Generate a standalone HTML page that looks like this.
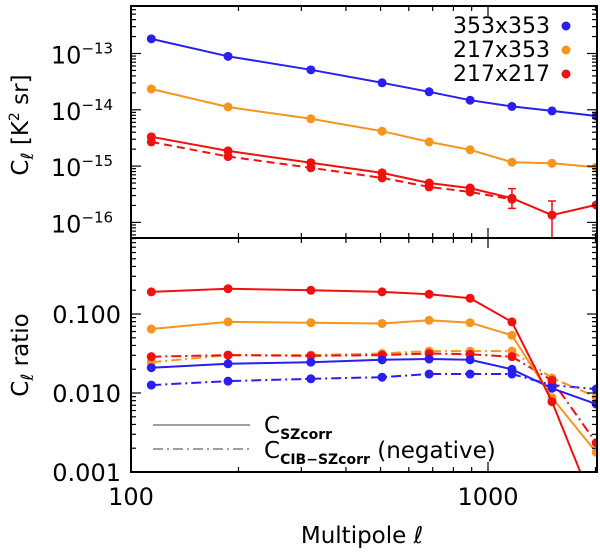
<!DOCTYPE html>
<html><head><meta charset="utf-8"><style>
body{margin:0;background:#fff}
svg{display:block;font-family:"DejaVu Sans","Liberation Sans",sans-serif}
</style></head><body>
<svg id="chart" width="600" height="553">
<rect width="600" height="553" fill="#fff"/>
<g id="marks"></g>
<g id="axes"></g>
<text x="28" y="125" transform="rotate(-90 28 125)" text-anchor="middle" font-size="23">C<tspan font-style="italic" font-size="17" dy="5">ℓ</tspan><tspan dy="-5"> [K</tspan><tspan font-size="14" dy="-9">2</tspan><tspan dy="9"> sr]</tspan></text>
<text x="28" y="355" transform="rotate(-90 28 355)" text-anchor="middle" font-size="23">C<tspan font-style="italic" font-size="17" dy="5">ℓ</tspan><tspan dy="-5"> ratio</tspan></text>
<text x="362" y="543" text-anchor="middle" font-size="23">Multipole <tspan font-style="italic">ℓ</tspan></text>
<g font-size="22">
<text x="550" y="33" text-anchor="end">353x353</text>
<circle cx="566" cy="26" r="4.5" fill="#2a1ff0"/>
<text x="550" y="57" text-anchor="end">217x353</text>
<circle cx="566" cy="50" r="4.5" fill="#f7941d"/>
<text x="550" y="81" text-anchor="end">217x217</text>
<circle cx="566" cy="74" r="4.5" fill="#f01010"/>
</g>
<g>
<line x1="153" y1="425" x2="250" y2="425" stroke="#000" stroke-width="0.8"/>
<line x1="153" y1="449" x2="250" y2="449" stroke="#000" stroke-width="0.8" stroke-dasharray="10,4,2,4"/>
<text x="264" y="433" font-size="23">C<tspan font-size="14" font-weight="bold" dy="6">SZcorr</tspan></text>
<text x="264" y="458" font-size="23">C<tspan font-size="14" font-weight="bold" dy="6">CIB−SZcorr</tspan><tspan dy="-6"> (negative)</tspan></text>
</g>
</svg>
<script>
const ell = [114, 187, 319, 505, 684, 891, 1167, 1511, 2009];
// top panel log10(C_ell)
const top353 = [-12.74, -13.05, -13.29, -13.52, -13.68, -13.83, -13.94, -14.02, -14.11];
const top217x353 = [-13.63, -13.95, -14.16, -14.38, -14.57, -14.71, -14.93, -14.95, -15.02];
const top217 = [-14.48, -14.73, -14.94, -15.12, -15.30, -15.39, -15.57, -15.87, -15.69];
const top217dash = [-14.57, -14.83, -15.03, -15.21, -15.37, -15.46, -15.59];
const err217lo = [null, null, null, null, null, null, -15.75, -16.5, null];
const err217hi = [null, null, null, null, null, null, -15.40, -15.62, null];
// bottom panel log10(ratio)
const r217 = [-0.72, -0.68, -0.70, -0.72, -0.75, -0.80, -1.10, -2.11, -3.5];
const r217x353 = [-1.19, -1.10, -1.11, -1.12, -1.08, -1.11, -1.27, -2.06, -2.75];
const r353 = [-1.68, -1.63, -1.61, -1.58, -1.57, -1.58, -1.70, -1.94, -2.14];
const r217cib = [-1.54, -1.52, -1.53, -1.52, -1.50, -1.51, -1.54, -1.84, -2.63];
const r217x353cib = [-1.61, -1.52, -1.52, -1.50, -1.47, -1.47, -1.47, -1.81, -2.05];
const r353cib = [-1.90, -1.85, -1.82, -1.80, -1.76, -1.76, -1.76, -1.90, -1.95];
const topTicks = ["10<tspan font-size='15' dy='-10'>−13</tspan>","10<tspan font-size='15' dy='-10'>−14</tspan>","10<tspan font-size='15' dy='-10'>−15</tspan>","10<tspan font-size='15' dy='-10'>−16</tspan>"];
const topTickVals = [-13, -14, -15, -16];
const botTicks = ["0.100", "0.010", "0.001"];
const botTickVals = [-1, -2, -3];
const xTicks = ["100", "1000"];
const xTickVals = [100, 1000];

const L = 131, R = 597, T = 6, M = 238, B = 472;
const xs = v => L + (Math.log10(v) - 2) * 357;
const yTop = lv => 53.5 - (lv + 13) * 56.3;
const yBot = lv => 314 - (lv + 1) * 79;
const NS = "http://www.w3.org/2000/svg";
const marks = document.getElementById('marks');
const axes = document.getElementById('axes');
function mk(tag, attrs, parent) {
  const e = document.createElementNS(NS, tag);
  for (const k in attrs) e.setAttribute(k, attrs[k]);
  parent.appendChild(e); return e;
}
const clipD = mk('defs', {}, marks);
const c1 = mk('clipPath', {id: 'ct'}, clipD); mk('rect', {x: L, y: T, width: R - L, height: M - T}, c1);
const c2 = mk('clipPath', {id: 'cb'}, clipD); mk('rect', {x: L, y: M, width: R - L, height: B - M}, c2);
const gTop = mk('g', {'clip-path': 'url(#ct)'}, marks);
const gBot = mk('g', {'clip-path': 'url(#cb)'}, marks);

function series(g, vals, yf, color, dash, name, dots) {
  const pts = vals.map((v, i) => xs(ell[i]).toFixed(1) + ',' + yf(v).toFixed(1)).join(' ');
  const p = mk('polyline', {points: pts, fill: 'none', stroke: color, 'stroke-width': 2}, g);
  if (dash) p.setAttribute('stroke-dasharray', dash);
  
  
  if (dots) vals.forEach((v, i) => {
    const c = mk('circle', {cx: xs(ell[i]), cy: yf(v), r: 4.5, fill: color}, g);
    
    
  });
}
const BL = '#2a1ff0', OR = '#f7941d', RD = '#f01010';
series(gTop, top353, yTop, BL, null, 'top-353x353', true);
series(gTop, top217x353, yTop, OR, null, 'top-217x353', true);
series(gTop, top217dash, yTop, RD, '8,5', 'top-217x217-dashed', true);
series(gTop, top217, yTop, RD, null, 'top-217x217', true);
err217lo.forEach((lo, i) => {
  if (lo === null) return;
  const x = xs(ell[i]), y1 = yTop(lo), y2 = yTop(err217hi[i]);
  const e = mk('path', {d: `M${x},${y1}V${y2}M${x-4},${y1}h8M${x-4},${y2}h8`, stroke: RD, 'stroke-width': 1.5, fill: 'none'}, gTop);
  
  
});
const DD = '10,4,2,4';
series(gBot, r353cib, yBot, BL, DD, 'ratio-353x353-cib', true);
series(gBot, r217x353cib, yBot, OR, DD, 'ratio-217x353-cib', true);
series(gBot, r217cib, yBot, RD, DD, 'ratio-217x217-cib', true);
series(gBot, r353, yBot, BL, null, 'ratio-353x353', true);
series(gBot, r217x353, yBot, OR, null, 'ratio-217x353', true);
series(gBot, r217, yBot, RD, null, 'ratio-217x217', true);

mk('rect', {x: L, y: T, width: R - L, height: B - T, fill: 'none', stroke: '#000', 'stroke-width': 2}, axes);
mk('line', {x1: L, y1: M, x2: R, y2: M, stroke: '#000', 'stroke-width': 2}, axes);
function yticks(yf, lo, hi, y0, y1) {
  for (let d = lo; d <= hi; d++) for (let k = 1; k < 10; k++) {
    const y = yf(d + Math.log10(k));
    if (y < y0 || y > y1) continue;
    const len = k === 1 ? 10 : 5;
    mk('line', {x1: L, y1: y, x2: L + len, y2: y, stroke: '#000', 'stroke-width': 1.2}, axes);
    mk('line', {x1: R, y1: y, x2: R - len, y2: y, stroke: '#000', 'stroke-width': 1.2}, axes);
  }
}
yticks(yTop, -17, -12, T, M);
yticks(yBot, -4, 0, M, B);
topTickVals.forEach((v, i) => {
  const t = mk('text', {x: 82, y: yTop(v) + 10, 'font-size': 24, 'text-anchor': 'middle'}, axes);
  t.innerHTML = topTicks[i];
  
  
});
botTickVals.forEach((v, i) => {
  const t = mk('text', {x: 121, y: yBot(v) + 9, 'font-size': 24, 'text-anchor': 'end'}, axes);
  t.textContent = botTicks[i];
  
  
});
for (let d = 100; d <= 1000; d *= 10) for (let k = 1; k < 10; k++) {
  const v = d * k; const x = xs(v);
  if (x > R) continue;
  const len = k === 1 ? 10 : 5;
  [T, M].forEach(y => mk('line', {x1: x, y1: y, x2: x, y2: y + len, stroke: '#000', 'stroke-width': 1.2}, axes));
  [M, B].forEach(y => mk('line', {x1: x, y1: y, x2: x, y2: y - len, stroke: '#000', 'stroke-width': 1.2}, axes));
}
xTickVals.forEach((v, i) => {
  const t = mk('text', {x: xs(v), y: 505, 'font-size': 24, 'text-anchor': 'middle'}, axes);
  t.textContent = xTicks[i];
  
  
});
</script>
</body></html>
